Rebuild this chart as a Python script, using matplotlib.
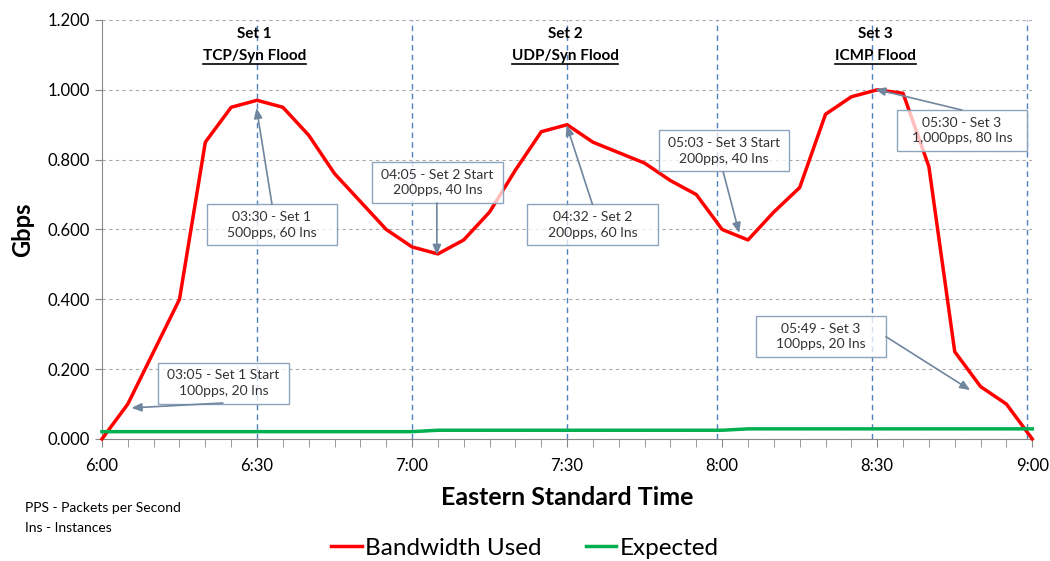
import matplotlib
matplotlib.use("Agg")
import numpy as np
from matplotlib import pyplot as plt
from matplotlib.patches import Rectangle
from matplotlib.lines import Line2D

plt.rcParams['font.family'] = ['Lato', 'DejaVu Sans']

# minutes after 6:00, 5 minute samples
minutes = list(range(0, 181, 5))
bandwidth = [0.00, 0.10, 0.25, 0.40, 0.85, 0.95, 0.97, 0.95, 0.87, 0.76, 0.68, 0.60, 0.55,
             0.53, 0.57, 0.65, 0.77, 0.88, 0.90, 0.85, 0.82, 0.79, 0.74, 0.70, 0.60,
             0.57, 0.65, 0.72, 0.93, 0.98, 1.00, 0.99, 0.78, 0.25, 0.15, 0.10, 0.00]
expected = [0.021] * 13 + [0.025] * 12 + [0.029] * 12

tick_minutes = [0, 30, 60, 90, 120, 150, 180]
tick_labels = ["6:00", "6:30", "7:00", "7:30", "8:00", "8:30", "9:00"]
set_lines = [30, 60, 90, 119, 149, 179]

set_names = ["Set 1", "Set 2", "Set 3"]
set_types = ["TCP/Syn Flood", "UDP/Syn Flood", "ICMP Flood"]
set_x = [29.5, 89.6, 149.6]

# note text, box centre, arrow tail, arrow tip (minutes, Gbps)
notes = ["03:05 - Set 1 Start\n100pps, 20 Ins",
         "03:30 - Set 1\n500pps, 60 Ins",
         "04:05 - Set 2 Start\n200pps, 40 Ins",
         "04:32 - Set 2\n200pps, 60 Ins",
         "05:03 - Set 3 Start\n200pps, 40 Ins",
         "05:30 - Set 3\n1,000pps, 80 Ins",
         "05:49 - Set 3\n100pps, 20 Ins"]
box_xy = [(23.5, 0.160), (32.9, 0.613), (64.9, 0.735), (94.9, 0.613),
          (120.3, 0.825), (166.4, 0.884), (139.1, 0.293)]
tail_xy = [(23.4, 0.103), (32.9, 0.672), (64.8, 0.676), (94.9, 0.672),
           (120.2, 0.765), (166.4, 0.942), (151.7, 0.293)]
tip_xy = [(5.7, 0.089), (29.9, 0.948), (64.8, 0.527), (89.9, 0.899),
          (123.3, 0.590), (149.6, 1.002), (168.0, 0.140)]

fig = plt.figure(figsize=(10.5, 5.61), dpi=100)
ax = fig.add_axes([0.0971, 0.2175, 0.886, 0.7469])

ax.plot(minutes, bandwidth, color="#FF0000", lw=2.5, label="Bandwidth Used", zorder=3, clip_on=False)
ax.plot(minutes, expected, color="#00B050", lw=2.5, label="Expected", zorder=3, clip_on=False)

for m in set_lines:
    ax.axvline(m, color="#4F81BD", lw=1, ls=(0, (4, 3)), zorder=1)

ax.set_xlim(0, 180)
ax.set_ylim(0, 1.2)
ax.set_yticks(np.arange(0, 1.21, 0.2))
ax.set_yticklabels(["%.3f" % v for v in np.arange(0, 1.21, 0.2)], fontsize=12)
ax.set_xticks(tick_minutes)
ax.set_xticklabels(tick_labels, fontsize=12)
ax.set_xticks(range(0, 181, 5), minor=True)
ax.tick_params(axis="x", which="both", direction="out", length=6, color="#888888", pad=8)
ax.tick_params(axis="y", direction="out", length=5, color="#888888")
ax.yaxis.grid(True, ls=(0, (3, 3)), color="#AAAAAA", lw=0.8)
ax.set_axisbelow(True)
for s in ["top", "right"]:
    ax.spines[s].set_visible(False)
for s in ["left", "bottom"]:
    ax.spines[s].set_color("#888888")

ax.set_ylabel("Gbps", fontsize=17, fontweight="bold", labelpad=10)
ax.set_xlabel("Eastern Standard Time", fontsize=18, fontweight="bold", labelpad=8)

# set headers
heads = []
for name, kind, x in zip(set_names, set_types, set_x):
    ax.text(x, 1.16, name, ha="center", va="center", fontsize=11, fontweight="bold")
    heads.append(ax.text(x, 1.097, kind, ha="center", va="center", fontsize=11, fontweight="bold"))

# annotation boxes
bw, bh = 25.2, 0.1175
for txt, (cx, cy), tail, tip in zip(notes, box_xy, tail_xy, tip_xy):
    ax.add_patch(Rectangle((cx - bw / 2, cy - bh / 2), bw, bh, facecolor="white", alpha=0.75,
                           edgecolor="none", zorder=4))
    ax.add_patch(Rectangle((cx - bw / 2, cy - bh / 2), bw, bh, facecolor="none",
                           edgecolor="#8EA4BD", lw=1, zorder=5))
    ax.text(cx, cy, txt, ha="center", va="center", fontsize=10, color="#333333",
            linespacing=1.35, zorder=6)
    ax.annotate("", xy=tip, xytext=tail, zorder=6,
                arrowprops=dict(arrowstyle="-|>,head_length=0.6,head_width=0.25",
                                color="#6F869E", lw=1.2, shrinkA=0, shrinkB=0))

fig.text(25 / 1050, 1 - 508 / 561, "PPS - Packets per Second", fontsize=10, va="center")
fig.text(25 / 1050, 1 - 528 / 561, "Ins - Instances", fontsize=10, va="center")

fig.legend(loc="center", bbox_to_anchor=(0.5, 1 - 548 / 561), ncol=2, frameon=False,
           fontsize=17.5, handlelength=1.25, handletextpad=0.15, columnspacing=1.8)

# underline the flood names
fig.canvas.draw()
r = fig.canvas.get_renderer()
for t in heads:
    bb = t.get_window_extent(r)
    y = (bb.y0 - 1) / fig.bbox.height
    fig.add_artist(Line2D([bb.x0 / fig.bbox.width, bb.x1 / fig.bbox.width], [y, y],
                          color="black", lw=1.2))

fig.savefig("out.png", dpi=100)
